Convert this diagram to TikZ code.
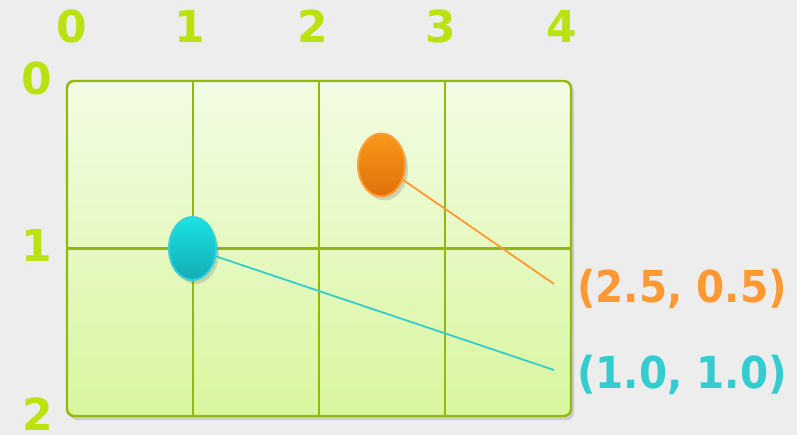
\documentclass[tikz,border=0pt]{standalone}
\usepackage{fontspec}
\setmainfont{DejaVu Sans}
\usetikzlibrary{shapes.geometric,shadows}
\definecolor{bg}{RGB}{237,237,237}
\definecolor{lime}{RGB}{186,226,16}
\definecolor{gridg}{RGB}{145,185,10}
\definecolor{boardtop}{RGB}{243,252,228}
\definecolor{boardbot}{RGB}{216,246,158}
\definecolor{orT}{RGB}{250,152,25}
\definecolor{orB}{RGB}{222,112,10}
\definecolor{orE}{RGB}{255,160,60}
\definecolor{orText}{RGB}{255,153,51}
\definecolor{cyT}{RGB}{28,226,226}
\definecolor{cyB}{RGB}{20,172,182}
\definecolor{cyE}{RGB}{50,210,215}
\definecolor{cyText}{RGB}{52,204,206}
\begin{document}
\begin{tikzpicture}[x=1pt,y=-1pt,
  axis/.style={font=\fontsize{44}{50}\selectfont\bfseries, text=lime, inner sep=0pt},
  coordlabel/.style={font=\fontsize{44}{50}\selectfont\bfseries, inner sep=0pt, anchor=base},
  gridline/.style={draw=gridg, line width=2.2pt},
  boardbox/.style={draw=gridg, line width=2.4pt, rounded corners=7pt,
    top color=boardtop, bottom color=boardbot, inner sep=0pt,
    minimum width=504pt, minimum height=335pt,
    drop shadow={shadow xshift=3pt, shadow yshift=-4pt, opacity=0.3}},
  dot/.style={ellipse, inner sep=0pt, minimum width=47pt, minimum height=63pt, line width=2pt,
    drop shadow={shadow xshift=3pt, shadow yshift=-4pt, opacity=0.3}},
  leader/.style={line width=1.8pt}
]
\fill[bg] (0,0) rectangle (797,435);
\useasboundingbox (0,0) rectangle (797,435);

\node[boardbox] (board) at (319,248.5) {};
\draw[gridline] (193,81) -- (193,416);
\draw[gridline] (319,81) -- (319,416);
\draw[gridline] (445,81) -- (445,416);
\draw[gridline] (67,248.5) -- (571,248.5);

\node[axis] (x0) at (71.5,26.5) {0};
\node[axis] (x1) at (190,26.5) {1};
\node[axis] (x2) at (313,26.5) {2};
\node[axis] (x3) at (441,26.5) {3};
\node[axis] (x4) at (562,26.5) {4};
\node[axis] (y0) at (36.5,78.5) {0};
\node[axis] (y1) at (37,245) {1};
\node[axis] (y2) at (37.5,414) {2};

\node[dot, top color=orT, bottom color=orB, draw=orE] (orange) at (381.5,165) {};
\node[dot, top color=cyT, bottom color=cyB, draw=cyE] (cyan) at (192.5,248.5) {};

\coordinate (oend) at (554,284);
\coordinate (cend) at (554,370);
\draw[leader, orText] (orange) -- (oend);
\draw[leader, cyText] (cyan) -- (cend);

\node[coordlabel, text=orText] (olabel) at (682,302) {\scalebox{0.92}[1]{(2.5, 0.5)}};
\node[coordlabel, text=cyText] (clabel) at (682,388) {\scalebox{0.92}[1]{(1.0, 1.0)}};
\end{tikzpicture}
\end{document}
